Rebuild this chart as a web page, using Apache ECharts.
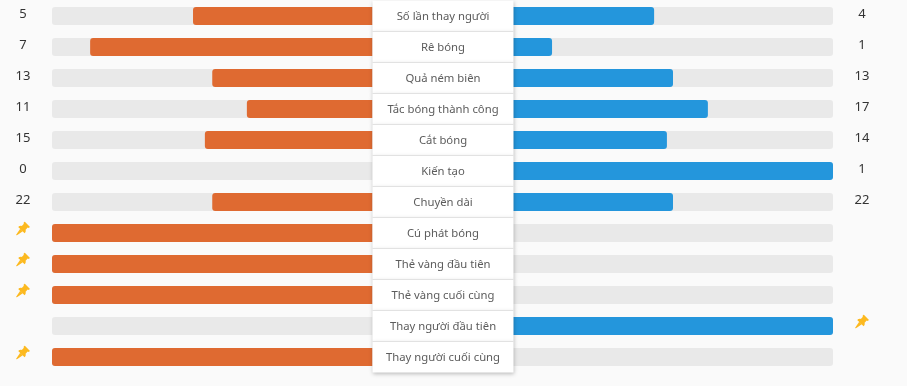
<!DOCTYPE html>
<html>
<head>
<meta charset="utf-8">
<title>Thống kê</title>
<script src="https://cdn.jsdelivr.net/npm/echarts@6/dist/echarts.min.js"></script>
<style>
  html, body { margin: 0; padding: 0; background: #fafafa; }
  #main { width: 907px; height: 386px; }
</style>
</head>
<body>
<div id="main"></div>
<script>
// stat names, top to bottom
const categories = [
  "Số lần thay người", "Rê bóng", "Quả ném biên", "Tắc bóng thành công",
  "Cắt bóng", "Kiến tạo", "Chuyền dài", "Cú phát bóng",
  "Thẻ vàng đầu tiên", "Thẻ vàng cuối cùng", "Thay người đầu tiên", "Thay người cuối cùng"
];
// numbers printed beside the bars, "pin" rows show the pin icon
const homeLabels = ["5", "7", "13", "11", "15", "0", "22", "pin", "pin", "pin", "", "pin"];
const awayLabels = ["4", "1", "13", "17", "14", "1", "22", "", "", "", "pin", ""];
// filled part of each track
const homeShare = [0.56, 0.881, 0.5, 0.392, 0.523, 0, 0.5, 1, 1, 1, 0, 1];
const awayShare = [0.441, 0.122, 0.5, 0.609, 0.481, 1, 0.5, 0, 0, 0, 1, 0];

const pinSvg = "<svg xmlns='http://www.w3.org/2000/svg' viewBox='0 0 14 14'>" +
  "<g fill='#fcb91f'><path d='M8.6 0 L14 5.4 L12.6 6.5 L11.7 6.1 L9.6 8.2 C10 9.6 9.6 10.8 8.6 11.8 L2.2 5.4 C3.2 4.4 4.4 4 5.8 4.4 L7.9 2.3 L7.5 1.4 Z'/>" +
  "<path d='M4.2 7.2 L6.8 9.8 L0.6 14 L0 13.4 Z'/></g></svg>";
const pinImage = "data:image/svg+xml;charset=utf-8," + encodeURIComponent(pinSvg);

function sideLabel(labels) {
  return function (name) {
    const text = labels[categories.indexOf(name)];
    if (text === "pin") {
      return "{pin|}\n{gap| }"; // gap line lifts the pin above the row centre
    }
    return text === "" ? "" : "{num|" + text + "}";
  };
}

const labelRich = {
  num: { fontSize: 13, color: "#333", padding: [0, 0, 3, 0] },
  pin: { width: 14, height: 14, backgroundColor: { image: pinImage } },
  gap: { fontSize: 1, height: 9, lineHeight: 9 }
};

const axisOff = { show: false };

const option = {
  backgroundColor: "#fafafa",
  animation: false,
  textStyle: { fontFamily: "'Noto Sans', sans-serif" },
  grid: [
    { left: 52, top: 0.5, width: 320.5, height: 372 },
    { left: 513, top: 0.5, width: 320, height: 372 },
    { left: 372.5, top: 0.5, width: 141, height: 372 }
  ],
  xAxis: [
    { gridIndex: 0, type: "value", min: 0, max: 1, inverse: true, show: false },
    { gridIndex: 1, type: "value", min: 0, max: 1, show: false },
    { gridIndex: 2, type: "value", min: 0, max: 1, show: false }
  ],
  yAxis: [
    {
      gridIndex: 0, type: "category", data: categories, inverse: true, position: "left",
      axisLine: axisOff, axisTick: axisOff, splitLine: axisOff,
      axisLabel: {
        interval: 0, margin: 29, align: "center",
        formatter: sideLabel(homeLabels), rich: labelRich
      }
    },
    {
      gridIndex: 1, type: "category", data: categories, inverse: true, position: "right",
      axisLine: axisOff, axisTick: axisOff, splitLine: axisOff,
      axisLabel: {
        interval: 0, margin: 29, align: "center",
        formatter: sideLabel(awayLabels), rich: labelRich
      }
    },
    {
      gridIndex: 2, type: "category", data: categories, inverse: true, z: 5,
      axisLine: axisOff, axisTick: axisOff,
      splitLine: {
        show: true, showMinLine: false, showMaxLine: false, interval: 0,
        lineStyle: { color: "#e2e2e2", width: 1 }
      },
      axisLabel: {
        inside: true, interval: 0, margin: 70.5, align: "center",
        formatter: "{stat|{value}}",
        rich: { stat: { fontSize: 11.3, color: "#5c5c5c", padding: [1, 0, 0, 0] } }
      }
    }
  ],
  series: [
    {
      type: "bar", xAxisIndex: 0, yAxisIndex: 0, data: homeShare, barWidth: 18,
      showBackground: true,
      backgroundStyle: { color: "#e9e9e9", borderRadius: [3, 0, 0, 3] },
      itemStyle: { color: "#df6a31", borderRadius: [3, 0, 0, 3] }
    },
    {
      type: "bar", xAxisIndex: 1, yAxisIndex: 1, data: awayShare, barWidth: 18,
      showBackground: true,
      backgroundStyle: { color: "#e9e9e9", borderRadius: [0, 3, 3, 0] },
      itemStyle: { color: "#2496dc", borderRadius: [0, 3, 3, 0] }
    },
    {
      // white card behind the stat names
      type: "bar", xAxisIndex: 2, yAxisIndex: 2, z: 3, barWidth: "100%",
      data: categories.map(() => 1), silent: true,
      itemStyle: { color: "#fff", shadowBlur: 4, shadowColor: "rgba(0,0,0,0.25)", shadowOffsetY: 1 }
    }
  ]
};

const myChart = echarts.init(document.getElementById("main"));
myChart.setOption(option);
</script>
</body>
</html>
